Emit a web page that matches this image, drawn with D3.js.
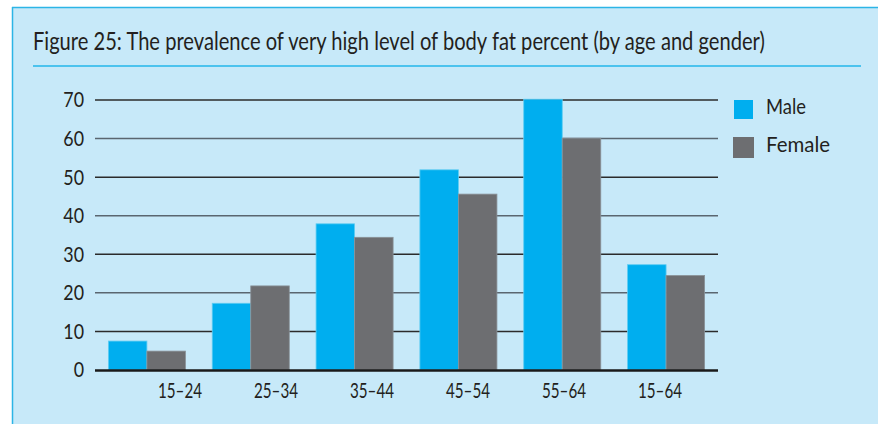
<!DOCTYPE html>
<html><head><meta charset="utf-8">
<script src="https://cdn.jsdelivr.net/npm/d3@7"></script>
<style>html,body{margin:0;padding:0;background:#fff;}svg{display:block;}</style>
</head><body>
<svg id="c" width="878" height="424"></svg>
<script>
const categories = ["15–24","25–34","35–44","45–54","55–64","15–64"];
const maleValues = [7.5, 17.3, 37.9, 51.9, 70.2, 27.3];
const femaleValues = [4.9, 21.8, 34.4, 45.6, 60.1, 24.5];
const seriesNames = ["Male","Female"];
const yTicks = [0,10,20,30,40,50,60,70];
const title = "Figure 25: The prevalence of very high level of body fat percent (by age and gender)";

const colors = {Male:"#00aeef", Female:"#6d6e71"};
const font = "Lato, 'Open Sans', sans-serif";
const svg = d3.select("#c");

// panel
svg.append("rect").attr("x",12).attr("y",7).attr("width",866).attr("height",417).attr("fill","#c7e9f9");
svg.append("line").attr("x1",12).attr("x2",878).attr("y1",7.5).attr("y2",7.5).attr("stroke","#2cb5e6").attr("stroke-width",1.5);
svg.append("line").attr("x1",12.5).attr("x2",12.5).attr("y1",7).attr("y2",424).attr("stroke","#2cb5e6").attr("stroke-width",1.5);

const tt = svg.append("text").attr("x",0).attr("y",0).attr("font-family",font).attr("font-size",25)
  .attr("fill","#231f20").text(title);
const tw = tt.node().getComputedTextLength();
tt.attr("transform",`translate(33,50) scale(${732/tw},1)`);
svg.append("line").attr("x1",33).attr("x2",861).attr("y1",66).attr("y2",66).attr("stroke","#4cc3ee").attr("stroke-width",2);

const x0 = 95, x1 = 718;
const y = d3.scaleLinear().domain([0,70]).range([370,100]);
const xb = d3.scaleBand().domain(categories).range([x0,x1]).paddingInner(0.258).paddingOuter(0.129);
const xs = d3.scaleBand().domain(seriesNames).range([0, xb.bandwidth()]);
const xl = d3.scalePoint().domain(categories).range([180,660]);

// grid
const g = svg.append("g");
g.selectAll("line.grid").data(yTicks.filter(d=>d>0)).join("line")
  .attr("x1",x0).attr("x2",x1).attr("y1",d=>y(d)).attr("y2",d=>y(d))
  .attr("stroke",(d,i)=>i%2? "#5a6670":"#2b2b2b").attr("stroke-width",1.5);

// y labels
g.selectAll("text.yl").data(yTicks).join("text")
  .attr("x",84).attr("y",d=>y(d)+7.5).attr("text-anchor","end")
  .attr("font-family",font).attr("font-size",21).attr("fill","#231f20")
  .attr("transform",d=>`translate(84,0) scale(0.85,1) translate(-84,0)`).text(d=>d);

// bars
const data = categories.map((c,i)=>({c, vals:[{s:"Male",v:maleValues[i]},{s:"Female",v:femaleValues[i]}]}));
const grp = svg.append("g").selectAll("g").data(data).join("g").attr("transform",d=>`translate(${xb(d.c)},0)`);
grp.selectAll("rect").data(d=>d.vals).join("rect")
  .attr("x",d=>xs(d.s)).attr("width",xs.bandwidth())
  .attr("y",d=>y(d.v)).attr("height",d=>y(0)-y(d.v))
  .attr("fill",d=>colors[d.s])
  .attr("stroke",d=>d.s==="Male"?"#5fcdf2":"#8a9298").attr("stroke-width",0.8);

// zero line
svg.append("line").attr("x1",x0).attr("x2",x1).attr("y1",y(0)+0.5).attr("y2",y(0)+0.5).attr("stroke","#1a1a1a").attr("stroke-width",2.5);

// x labels
svg.append("g").selectAll("text").data(categories).join("text")
  .attr("x",d=>xl(d)-22).attr("y",398)
  .attr("font-family",font).attr("font-size",21).attr("fill","#231f20")
  .attr("textLength",44).attr("lengthAdjust","spacingAndGlyphs").text(d=>d);

// legend
const lg = svg.append("g").selectAll("g").data(seriesNames).join("g")
  .attr("transform",(d,i)=>`translate(734,${100+i*38})`);
lg.append("rect").attr("x",(d,i)=>i?-1:0).attr("y",(d,i)=>i?-1:0)
  .attr("width",(d,i)=>i?21:19).attr("height",(d,i)=>i?21:19).attr("fill",d=>colors[d]);
lg.append("text").attr("x",32).attr("y",14).attr("font-family",font).attr("font-size",21).attr("fill","#231f20")
  .attr("textLength",(d,i)=>i?64:40).attr("lengthAdjust","spacingAndGlyphs").text(d=>d);
</script>
</body></html>
